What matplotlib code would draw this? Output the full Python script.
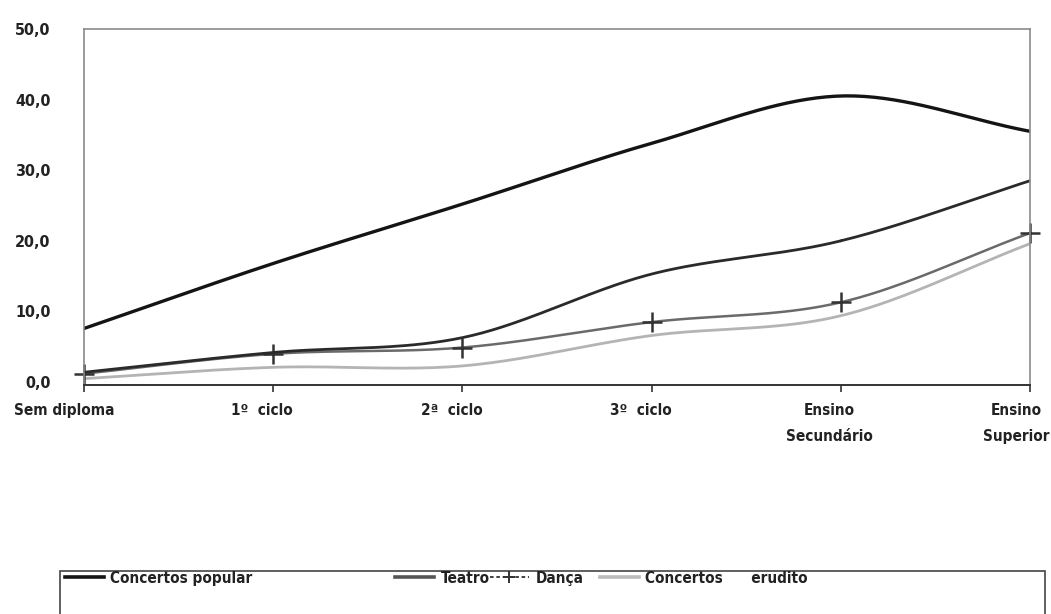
import numpy as np
import matplotlib
matplotlib.use("Agg")
import matplotlib.pyplot as plt
import matplotlib.transforms as mtransforms
from matplotlib.lines import Line2D
from matplotlib.patches import Rectangle

plt.rcParams['font.family'] = ['DejaVu Sans']
plt.rcParams['font.stretch'] = 'condensed'
plt.rcParams['font.weight'] = 'bold'

niveis = ['Sem diploma', '1º  ciclo', '2ª  ciclo', '3º  ciclo', 'Ensino\nSecundário', 'Ensino\nSuperior']
concertos_popular = [7.6, 16.8, 25.2, 33.8, 40.5, 35.5]
teatro = [1.4, 4.2, 6.3, 15.3, 20.0, 28.5]
danca = [1.2, 4.0, 4.9, 8.5, 11.3, 21.1]
concertos_erudito = [0.5, 2.1, 2.3, 6.6, 9.4, 19.6]
yticks = [0, 10, 20, 30, 40, 50]


def suavizar(x, y, n=40):
    # curva Catmull-Rom a passar pelos pontos (linha suavizada)
    x = np.asarray(x, float)
    y = np.asarray(y, float)
    px = np.concatenate([[2 * x[0] - x[1]], x, [2 * x[-1] - x[-2]]])
    py = np.concatenate([[2 * y[0] - y[1]], y, [2 * y[-1] - y[-2]]])
    xs, ys = [], []
    t = np.linspace(0, 1, n)
    for i in range(1, len(px) - 2):
        for p, out in ((px, xs), (py, ys)):
            p0, p1, p2, p3 = p[i - 1], p[i], p[i + 1], p[i + 2]
            out.extend(0.5 * (2 * p1 + (-p0 + p2) * t + (2 * p0 - 5 * p1 + 4 * p2 - p3) * t ** 2
                              + (-p0 + 3 * p1 - 3 * p2 + p3) * t ** 3))
    return np.array(xs), np.array(ys)


fig = plt.figure(figsize=(10.51, 6.14), dpi=100)
ax = fig.add_axes([0.080, 0.373, 0.900, 0.580])

x = np.arange(len(niveis))
series = [
    (concertos_popular, '#141414', 2.4, '-', None, 'Concertos popular'),
    (teatro, '#2a2a2a', 2.0, '-', None, 'Teatro'),
    (danca, '#6a6a6a', 1.8, '-', '+', 'Dança'),
    (concertos_erudito, '#b4b4b4', 2.0, '-', None, 'Concertos      erudito'),
]
for vals, cor, lw, ls, mk, nome in series[::-1]:
    sx, sy = suavizar(x, vals)
    ax.plot(sx, sy, color=cor, lw=lw, ls=ls, solid_capstyle='round')
    if mk:
        ax.plot(x, vals, ls='none', marker=mk, markersize=14, mew=1.8, color='#333333', clip_on=False)

ax.set_xlim(0, 5)
ax.set_ylim(-0.4, 50)
ax.set_xticks(x)
ax.set_xticklabels(niveis, fontsize=11, color='#222222', linespacing=1.9)
ax.set_yticks(yticks)
ax.set_yticklabels(['%d,0' % v for v in yticks], fontsize=11.5, color='#222222')
ax.tick_params(axis='y', length=0, pad=24)
ax.tick_params(axis='x', length=5, width=1.2, color='#333333', pad=8, direction='out')
# rótulos do eixo x ligeiramente deslocados para a esquerda
for i, lab in enumerate(ax.get_xticklabels()):
    dx = -20 if i == 0 else (-14 if i == 5 else -11)
    lab.set_transform(lab.get_transform() + mtransforms.ScaledTranslation(dx / 100, 0, fig.dpi_scale_trans))

for s in ['top', 'right', 'left']:
    ax.spines[s].set_color('#8a8a8a')
    ax.spines[s].set_linewidth(1.2)
ax.spines['bottom'].set_color('#333333')
ax.spines['bottom'].set_linewidth(1.4)

# caixa da legenda e entradas
fig.patches.append(Rectangle((60 / 1051, -0.02), 985 / 1051, 0.09, transform=fig.transFigure,
                             fill=False, edgecolor='#444444', lw=1.2))
posicoes = [60, 390, 485, 595]
cores_leg = ['#141414', '#555555', '#333333', '#bbbbbb']
for (vals, cor, lw, ls, mk, nome), px, cl in zip(series, posicoes, cores_leg):
    if mk:
        h = Line2D([], [], color=cl, lw=1.3, ls=(0, (2, 1.5)), marker=mk, markersize=9, mew=1.4)
    else:
        h = Line2D([], [], color=cl, lw=2.6)
    leg = fig.legend([h], [nome], loc='upper left', bbox_to_anchor=(px / 1051, 1 - 566 / 614),
                     frameon=False, fontsize=11, handlelength=2.6, handletextpad=0.4,
                     borderaxespad=0, borderpad=0.3)
    for t in leg.get_texts():
        t.set_color('#222222')

fig.savefig('out.png', dpi=100)
